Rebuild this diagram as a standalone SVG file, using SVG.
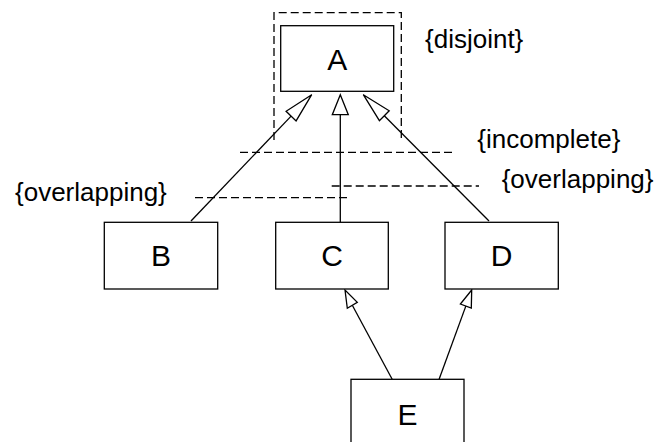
<svg xmlns="http://www.w3.org/2000/svg" width="657" height="442" viewBox="0 0 657 442">
  <style>
    .box { fill: #ffffff; stroke: #000000; stroke-width: 1.3; }
    .lbl { font-family: "Liberation Sans", Arial, sans-serif; font-size: 30px; fill: #000000; text-anchor: middle; }
    .note { font-family: "Liberation Sans", Arial, sans-serif; font-size: 26px; fill: #000000; }
    .line { fill: none; stroke: #000000; stroke-width: 1.3; }
    .dash { fill: none; stroke: #000000; stroke-width: 1.3; stroke-dasharray: 8 4; }
    .head { fill: #ffffff; stroke: #000000; stroke-width: 1.3; stroke-linejoin: miter; }
  </style>
  <rect width="657" height="442" fill="#ffffff"/>
  <g id="constraints">
    <path class="dash" d="M274,140 V12.7 H401.3 V140"/>
    <line class="dash" x1="240" y1="152.3" x2="455" y2="152.3"/>
    <line class="dash" x1="331.7" y1="186" x2="479" y2="186"/>
    <line class="dash" x1="195" y1="197.7" x2="351" y2="197.7"/>
    <text class="note" x="425" y="48">{disjoint}</text>
    <text class="note" x="477.3" y="147.7">{incomplete}</text>
    <text class="note" x="501.7" y="188">{overlapping}</text>
    <text class="note" x="15" y="200.5">{overlapping}</text>
  </g>
  <g id="connectors">
    <line class="line" x1="191" y1="221" x2="291.1" y2="116.1"/>
    <polygon class="head" points="311.7,94.7 296.1,120.9 286.1,111.3"/>
    <line class="line" x1="340.3" y1="222" x2="340.3" y2="114.7"/>
    <polygon class="head" points="340.3,94.7 348.3,114.7 332.3,114.7"/>
    <line class="line" x1="489" y1="221" x2="384.3" y2="115.7"/>
    <polygon class="head" points="363.3,94.7 379.4,120.6 389.2,110.8"/>
    <line class="line" x1="392.3" y1="379.5" x2="352.3" y2="305.3"/>
    <polygon class="head" points="345,290 347.3,308.3 357.3,302.3"/>
    <line class="line" x1="439" y1="379.5" x2="466" y2="305.6"/>
    <polygon class="head" points="471.7,290 460.4,304 471.3,308"/>
  </g>
  <g id="node-A">
    <rect class="box" x="280.7" y="25.7" width="113" height="65.6"/>
    <text class="lbl" x="337.2" y="69.5">A</text>
  </g>
  <g id="node-B">
    <rect class="box" x="104.3" y="222.3" width="113.4" height="66.7"/>
    <text class="lbl" x="161" y="266.3">B</text>
  </g>
  <g id="node-C">
    <rect class="box" x="275.7" y="222.3" width="112.6" height="66.7"/>
    <text class="lbl" x="332" y="266.3">C</text>
  </g>
  <g id="node-D">
    <rect class="box" x="445" y="222.3" width="113.3" height="66.7"/>
    <text class="lbl" x="501.7" y="266.3">D</text>
  </g>
  <g id="node-E">
    <rect class="box" x="351" y="379.3" width="113" height="66.7"/>
    <text class="lbl" x="407.5" y="424.5">E</text>
  </g>
</svg>
